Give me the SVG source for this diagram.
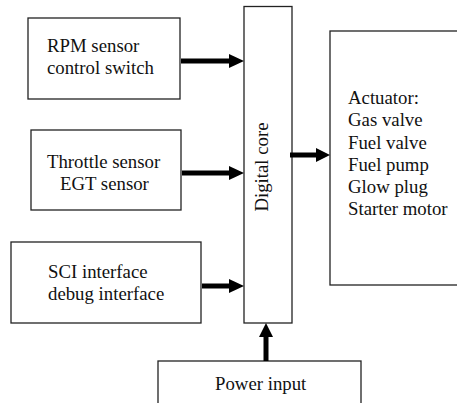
<svg xmlns="http://www.w3.org/2000/svg" width="457" height="403" viewBox="0 0 457 403">
<defs>
<style>
.box{fill:#fff;stroke:#222;stroke-width:1.3}
.t{font-family:"Liberation Serif","Times New Roman",serif;font-size:18.8px;fill:#111}
.shaft{stroke:#000;stroke-width:5;fill:none}
.head{fill:#000}
</style>
</defs>
<rect width="457" height="403" fill="#fff"/>
<g id="rpm">
<rect class="box" x="28" y="18" width="152" height="81"/>
<text class="t" x="47" y="52">RPM sensor</text>
<text class="t" x="47" y="74">control switch</text>
</g>
<g id="throttle">
<rect class="box" x="31" y="130" width="150" height="80"/>
<text class="t" x="47" y="168">Throttle sensor</text>
<text class="t" x="60" y="190">EGT sensor</text>
</g>
<g id="sci">
<rect class="box" x="11" y="242" width="190" height="81"/>
<text class="t" x="48" y="278">SCI interface</text>
<text class="t" x="48" y="300">debug interface</text>
</g>
<g id="core">
<rect class="box" x="244" y="6.5" width="48" height="316.5"/>
<text class="t" x="268" y="167" text-anchor="middle" transform="rotate(-90 268 167)">Digital core</text>
</g>
<g id="actuator">
<rect class="box" x="330" y="31" width="140" height="254"/>
<text class="t" x="348" y="104">Actuator:</text>
<text class="t" x="348" y="126">Gas valve</text>
<text class="t" x="348" y="148.5">Fuel valve</text>
<text class="t" x="348" y="171">Fuel pump</text>
<text class="t" x="348" y="193">Glow plug</text>
<text class="t" x="348" y="215">Starter motor</text>
</g>
<g id="power">
<rect class="box" x="158" y="361" width="203" height="60"/>
<text class="t" x="215" y="390">Power input</text>
</g>
<g id="connectors">
<line class="shaft" x1="181" y1="61" x2="231" y2="61"/>
<polygon class="head" points="229,54 244,61 229,68"/>
<line class="shaft" x1="182" y1="173" x2="231" y2="173"/>
<polygon class="head" points="229,166 244,173 229,180"/>
<line class="shaft" x1="202" y1="286" x2="231" y2="286"/>
<polygon class="head" points="229,279 244,286 229,293"/>
<line class="shaft" x1="290" y1="155" x2="318" y2="155"/>
<polygon class="head" points="316,148 330,155 316,162"/>
<line class="shaft" x1="266" y1="361" x2="266" y2="335"/>
<polygon class="head" points="259,337 266,323 273,337"/>
</g>
</svg>
